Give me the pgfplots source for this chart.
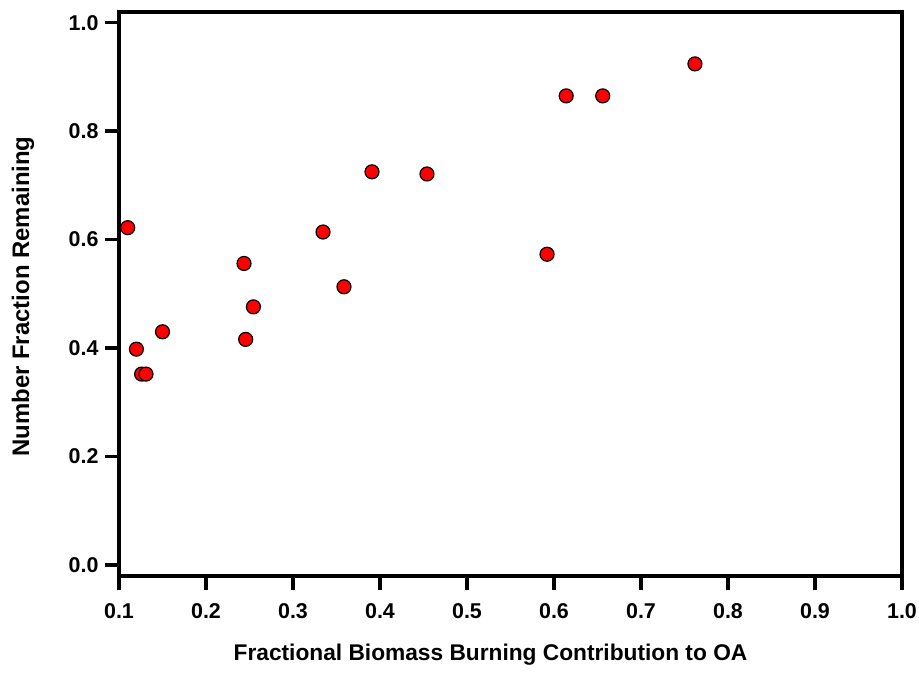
\documentclass[border=0pt]{standalone}
\usepackage{fontspec}
\setmainfont{Liberation Sans}
\usepackage{pgfplots}
\pgfplotsset{compat=1.18}
\begin{document}
\begin{tikzpicture}
\begin{axis}[
  at={(0,0)}, anchor=south west,
  scale only axis, width=783bp, height=564bp,
  xmin=0.1, xmax=1.0, ymin=-0.0203, ymax=1.0197,
  xtick={0.1,0.2,...,1.0},
  ytick={0,0.2,0.4,0.6,0.8,1.0},
  /pgf/number format/assume math mode=true,
  /pgf/number format/fixed, /pgf/number format/fixed zerofill,
  /pgf/number format/precision=1,
  tick align=outside, tick pos=left,
  major tick length=14bp,
  axis line style={line width=3.3bp},
  major tick style={line width=3.3bp, black},
  ticklabel style={font=\fontsize{21.5}{23}\selectfont\bfseries},
  xticklabel style={yshift=-10bp},
  yticklabel style={xshift=-3bp},
  xlabel={Fractional Biomass Burning Contribution to OA},
  ylabel={Number Fraction Remaining},
  every axis x label/.style={at={(axis description cs:0.5,0)}, anchor=center, xshift=-20bp, yshift=-79bp, font=\fontsize{22.8}{24}\selectfont\bfseries},
  every axis y label/.style={at={(axis description cs:0,0.5)}, anchor=center, xshift=-96bp, yshift=-2.5bp, rotate=90, font=\fontsize{24}{26}\selectfont\bfseries},
  clip=false,
]
\addplot[only marks, mark=*, mark size=7bp, mark options={fill=red, draw=black, line width=1.2bp}]
coordinates {
(0.110,0.622) (0.120,0.398) (0.126,0.352) (0.131,0.352) (0.150,0.430)
(0.2437,0.556) (0.2545,0.476) (0.2456,0.416) (0.3345,0.614) (0.3586,0.513)
(0.3908,0.725) (0.454,0.721) (0.592,0.573) (0.614,0.865) (0.656,0.865) (0.762,0.924)
};
\end{axis}
\pgfresetboundingbox
\path (-119bp,-121bp) rectangle (800bp,576bp);
\end{tikzpicture}
\end{document}
